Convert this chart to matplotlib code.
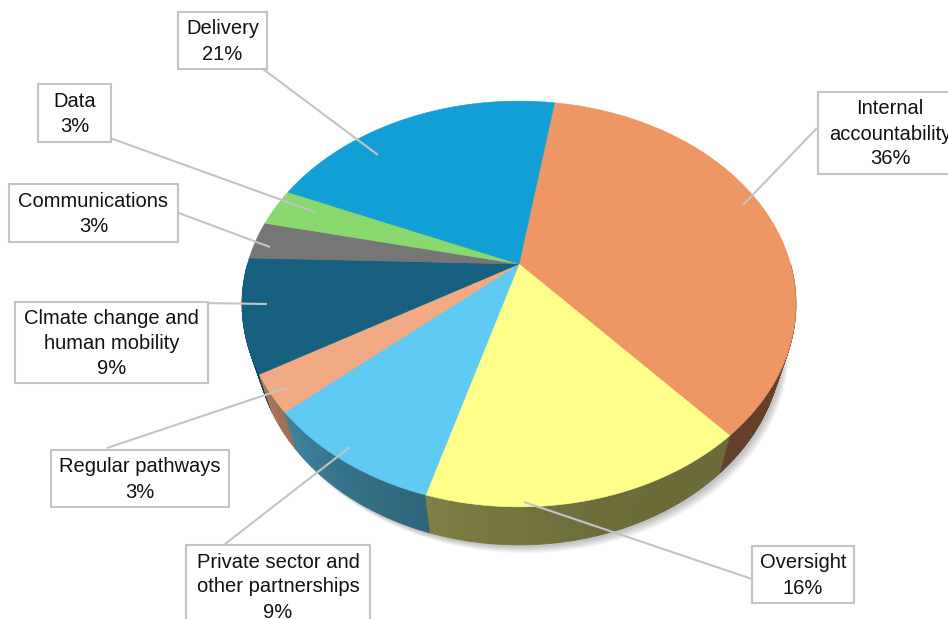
import numpy as np
import matplotlib.pyplot as plt
from matplotlib.patches import Polygon, Rectangle
from matplotlib.colors import to_rgb

# slices, clockwise from the first slice angle
labels = ["Internal\naccountability", "Oversight", "Private sector and\nother partnerships",
          "Regular pathways", "Clmate change and\nhuman mobility", "Communications",
          "Data", "Delivery"]
shares = [36, 16, 9, 3, 9, 3, 3, 21]
colors = ["#EE9664", "#FFFF8A", "#5FCAF4", "#F2AA84", "#17607F", "#767676",
          "#8AD96E", "#129FD5"]

# label boxes (x0, y0, x1, y1) in pixels and leader lines (box end, slice end)
boxes = [(818, 92, 962, 174), (752, 546, 854, 603), (186, 545, 370, 627),
         (51, 450, 229, 507), (15, 302, 208, 383), (9, 184, 178, 242),
         (38, 84, 111, 142), (178, 12, 267, 69)]
leaders = [((817, 128), (743, 205)), ((752, 579), (524, 502)), ((225, 544), (350, 447)),
           ((107, 448), (286, 388)), ((138, 302), (267, 304)), ((176, 212), (270, 247)),
           ((110, 138), (315, 212)), ((263, 69), (378, 155))]

# 3D pie geometry (perspective view)
cx, cy = 519, 264
R, B, k = 271.5, 195, 0.197
depth, shrink = 38, 0.95
start = 9.0


def proj(phi):
    p = np.radians(phi)
    s = 1 / (1 + k * np.cos(p))
    return cx + R * np.sin(p) * s, cy - B * np.cos(p) * s


def proj_bottom(phi):
    x, y = proj(phi)
    return cx + shrink * (x - cx), y + depth


def shade(phi):
    t = np.clip((phi - 150) / 90, 0, 1)
    return 0.42 + 0.3 * t ** 2


fig = plt.figure(figsize=(9.48, 6.19), dpi=100)
ax = fig.add_axes([0, 0, 1, 1])
ax.set_xlim(0, 948)
ax.set_ylim(619, 0)
ax.axis("off")

# soft shadow under the pie
ring = np.linspace(0, 360, 361)
bx, by = proj_bottom(ring)
for i in range(8):
    ax.add_patch(Polygon(np.column_stack([bx + 2 + 0.7 * i, by + 2 + 0.9 * i]),
                         closed=True, fc="black", ec="none", alpha=0.03, zorder=1))

angles = start + np.concatenate([[0], np.cumsum(shares)]) * 3.6

# side walls of the front half, drawn back to front
quads = []
for i, c in enumerate(colors):
    a0, a1 = max(angles[i], 90), min(angles[i + 1], 270)
    if a1 <= a0:
        continue
    base = np.array(to_rgb(c))
    steps = np.linspace(a0, a1, max(int((a1 - a0) * 2), 2))
    for j in range(len(steps) - 1):
        p0, p1 = steps[j], steps[j + 1]
        col = np.clip(base * shade((p0 + p1) / 2), 0, 1)
        x0, y0 = proj(p0)
        x1, y1 = proj(p1)
        x2, y2 = proj_bottom(p1)
        x3, y3 = proj_bottom(p0)
        quads.append((np.cos(np.radians((p0 + p1) / 2)),
                      [(x0, y0), (x1, y1), (x2, y2), (x3, y3)], col))
quads.sort(key=lambda q: -q[0])
for _, pts, col in quads:
    ax.add_patch(Polygon(pts, closed=True, fc=col, ec=col, lw=0.6, zorder=2))

# top face
for i, c in enumerate(colors):
    ph = np.linspace(angles[i], angles[i + 1], max(int(shares[i] * 4), 3))
    x, y = proj(ph)
    pts = np.column_stack([np.r_[cx, x], np.r_[cy, y]])
    ax.add_patch(Polygon(pts, closed=True, fc=c, ec=c, lw=0.4, zorder=3))

# leader lines and label boxes
for (p, q) in leaders:
    ax.plot([p[0], q[0]], [p[1], q[1]], color="#C4C4C4", lw=1.5, zorder=4,
            solid_capstyle="butt")

for lab, v, (x0, y0, x1, y1) in zip(labels, shares, boxes):
    ax.add_patch(Rectangle((x0, y0), x1 - x0, y1 - y0, fc="white", ec="#C4C4C4",
                           lw=1.5, zorder=5))
    ax.text((x0 + x1) / 2, (y0 + y1) / 2 + 1, f"{lab}\n{v}%", ha="center", va="center",
            fontsize=14.5, family="Liberation Sans", linespacing=1.4, color="#111111",
            zorder=6)

fig.savefig("out.png", dpi=100)
